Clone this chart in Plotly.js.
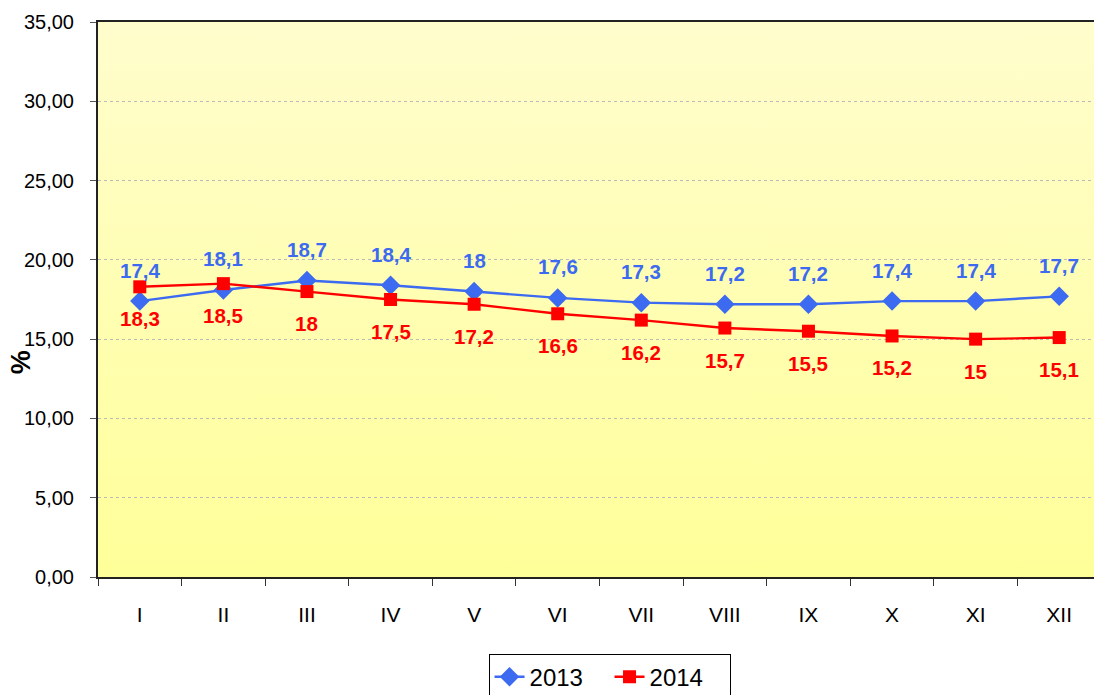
<!DOCTYPE html>
<html>
<head>
<meta charset="utf-8">
<script src="https://cdn.plot.ly/plotly-3.0.1.min.js"></script>
<style>
html,body{margin:0;padding:0;overflow:hidden;background:#fff;}
#chart{width:1102px;height:710px;}
</style>
</head>
<body>
<div id="chart"></div>
<script>
const months = ["I","II","III","IV","V","VI","VII","VIII","IX","X","XI","XII"];
const values2013 = [17.4, 18.1, 18.7, 18.4, 18, 17.6, 17.3, 17.2, 17.2, 17.4, 17.4, 17.7];
const values2014 = [18.3, 18.5, 18, 17.5, 17.2, 16.6, 16.2, 15.7, 15.5, 15.2, 15, 15.1];
const seriesNames = ["2013", "2014"];
const yAxisLabel = "%";

const blue = "#3C6AF0";
const red = "#FF0000";
const fontFam = "'Liberation Sans', Arial, sans-serif";

const fmt = v => String(v).replace(".", ",");

const traces = [
  {x: months, y: values2013, name: seriesNames[0], type: "scatter", mode: "lines+markers",
   line: {color: blue, width: 2.4}, marker: {symbol: "diamond", size: 15, color: blue}},
  {x: months, y: values2014, name: seriesNames[1], type: "scatter", mode: "lines+markers",
   line: {color: red, width: 2.4}, marker: {symbol: "square", size: 13, color: red}}
];

const annotations = [];
months.forEach((m, i) => {
  annotations.push({x: m, y: values2013[i], text: "<b>" + fmt(values2013[i]) + "</b>", showarrow: false,
    yshift: 31, font: {family: fontFam, size: 20.5, color: blue}});
  annotations.push({x: m, y: values2014[i], text: "<b>" + fmt(values2014[i]) + "</b>", showarrow: false,
    yshift: -32, font: {family: fontFam, size: 20.5, color: red}});
});
annotations.push({xref: "paper", yref: "paper", x: -0.0768, y: 0.387, xanchor: "center", yanchor: "middle",
  text: "<b>" + yAxisLabel + "</b>",
  showarrow: false, textangle: -90, font: {family: fontFam, size: 27, color: "#000"}});

const gradSvg = '<svg xmlns="http://www.w3.org/2000/svg" width="100" height="100" preserveAspectRatio="none">' +
  '<defs><linearGradient id="g" x1="0" y1="0" x2="0" y2="1">' +
  '<stop offset="0" stop-color="#FFFDCC"/><stop offset="1" stop-color="#FFFF99"/></linearGradient></defs>' +
  '<rect width="100" height="100" fill="url(#g)"/></svg>';

const layout = {
  width: 1102, height: 710,
  margin: {l: 98, r: 1, t: 22, b: 133},
  paper_bgcolor: "#fff",
  plot_bgcolor: "rgba(0,0,0,0)",
  separators: ", ",
  font: {family: fontFam, size: 20, color: "#000"},
  showlegend: true,
  legend: {orientation: "h", x: 0.51, xanchor: "center", y: -0.138, yanchor: "top",
    bordercolor: "#000", borderwidth: 1, font: {family: fontFam, size: 24, color: "#000"},
    entrywidth: 75, entrywidthmode: "pixels", tracegroupgap: 0},
  xaxis: {type: "category", tickson: "boundaries", ticks: "outside", ticklen: 7, tickcolor: "#333",
    showline: true, linecolor: "#222", linewidth: 2, mirror: true, showgrid: false,
    ticklabelstandoff: 18,
    tickfont: {family: fontFam, size: 21, color: "#000"}, range: [-0.5, 11.5], fixedrange: true},
  yaxis: {range: [0, 35], dtick: 5, tickformat: ".2f", ticks: "outside", ticklen: 6, tickcolor: "#555",
    showline: true, linecolor: "#222", linewidth: 2, mirror: true,
    gridcolor: "#BBBBBB", griddash: "dot", gridwidth: 1, zeroline: false,
    ticklabelstandoff: 12,
    tickfont: {family: fontFam, size: 20, color: "#000"}},
  images: [{source: "data:image/svg+xml;charset=utf-8," + encodeURIComponent(gradSvg),
    xref: "paper", yref: "paper", x: 0, y: 1, sizex: 1, sizey: 1, sizing: "stretch",
    xanchor: "left", yanchor: "top", layer: "below"}],
  annotations: annotations
};

Plotly.newPlot("chart", traces, layout, {displayModeBar: false, staticPlot: true});
</script>
</body>
</html>
